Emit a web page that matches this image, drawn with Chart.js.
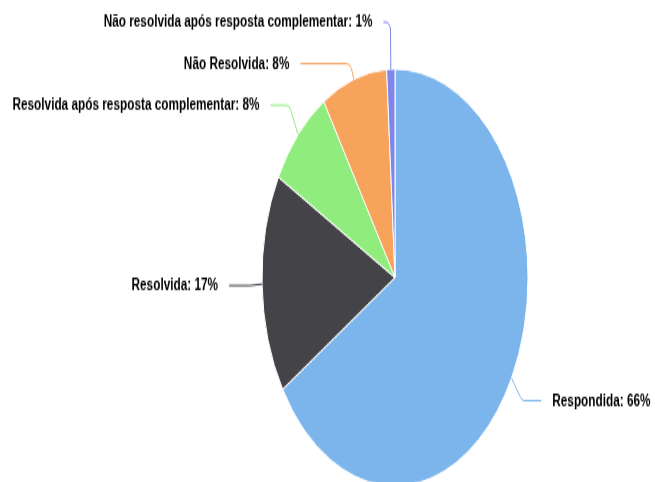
<!DOCTYPE html>
<html>
<head>
<meta charset="utf-8">
<script src="https://cdn.jsdelivr.net/npm/chart.js@4/dist/chart.umd.min.js"></script>
<style>
  html, body { margin: 0; padding: 0; background: #fff; }
  #wrap { width: 655px; height: 482px; overflow: hidden; }
  #stretch { width: 655px; height: 320px; transform: scaleY(1.568); transform-origin: 0 0; }
</style>
</head>
<body>
<div id="wrap"><div id="stretch"><canvas id="pie" width="655" height="320"></canvas></div></div>
<script>
const categories = [
  'Respondida',
  'Resolvida',
  'Resolvida após resposta complementar',
  'Não Resolvida',
  'Não resolvida após resposta complementar'
];
const percents = [66, 17, 8, 8, 1];
const colors = ['#7cb5ec', '#434348', '#90ed7d', '#f7a35c', '#8085e9'];

// highcharts-like outside labels with connectors
const pieLabels = {
  id: 'pieLabels',
  afterDatasetsDraw(chart) {
    const ctx = chart.ctx;
    const arcs = chart.getDatasetMeta(0).data;
    const distance = 30, spacing = 26.5;
    const items = arcs.map((arc, i) => {
      const p = arc.getProps(['x', 'y', 'startAngle', 'endAngle', 'outerRadius'], true);
      const mid = (p.startAngle + p.endAngle) / 2;
      const cos = Math.cos(mid), sin = Math.sin(mid);
      return {
        i, cx: p.x, cy: p.y, r: p.outerRadius, cos, sin,
        side: cos < 0 ? -1 : 1,
        ex: p.x + cos * p.outerRadius, ey: p.y + sin * p.outerRadius,
        ly: p.y + sin * (p.outerRadius + distance)
      };
    });
    [-1, 1].forEach(side => {
      const group = items.filter(it => it.side === side).sort((a, b) => a.ly - b.ly);
      for (let k = 1; k < group.length; k++) {
        if (group[k].ly < group[k - 1].ly + spacing) group[k].ly = group[k - 1].ly + spacing;
      }
    });
    ctx.save();
    ctx.font = 'bold 11.8px "Liberation Sans", Arial, sans-serif';
    ctx.textBaseline = 'middle';
    items.forEach(it => {
      const R = it.r + distance + 3;
      const dy = Math.max(-R, Math.min(R, it.ly - it.cy));
      let lx = it.cx + it.side * Math.sqrt(R * R - dy * dy);
      const bx = it.cx + it.cos * (it.r + 12);
      // label sitting right above the pie: keep its connector short
      if (Math.abs(it.cos) < 0.1) lx = bx + it.side * 7;
      ctx.strokeStyle = colors[it.i];
      ctx.lineWidth = 1;
      ctx.beginPath();
      ctx.moveTo(lx, it.ly);
      ctx.arcTo(bx, it.ly, it.ex, it.ey, 5);
      ctx.lineTo(it.ex, it.ey);
      ctx.stroke();
      const text = categories[it.i] + ': ' + percents[it.i] + '%';
      ctx.textAlign = it.side < 0 ? 'right' : 'left';
      const tx = lx + it.side * 11;
      ctx.lineWidth = 2;
      ctx.strokeStyle = '#fff';
      ctx.strokeText(text, tx, it.ly);
      ctx.fillStyle = '#000';
      ctx.fillText(text, tx, it.ly);
    });
    ctx.restore();
  }
};

new Chart(document.getElementById('pie'), {
  type: 'pie',
  data: {
    labels: categories,
    datasets: [{
      data: percents,
      backgroundColor: colors,
      borderColor: '#ffffff',
      borderWidth: 1,
      radius: 133
    }]
  },
  options: {
    responsive: false,
    animation: false,
    layout: { padding: { left: 262, right: 127, top: 44, bottom: 10 } },
    plugins: {
      legend: { display: false },
      tooltip: { enabled: false }
    }
  },
  plugins: [pieLabels]
});
</script>
</body>
</html>
